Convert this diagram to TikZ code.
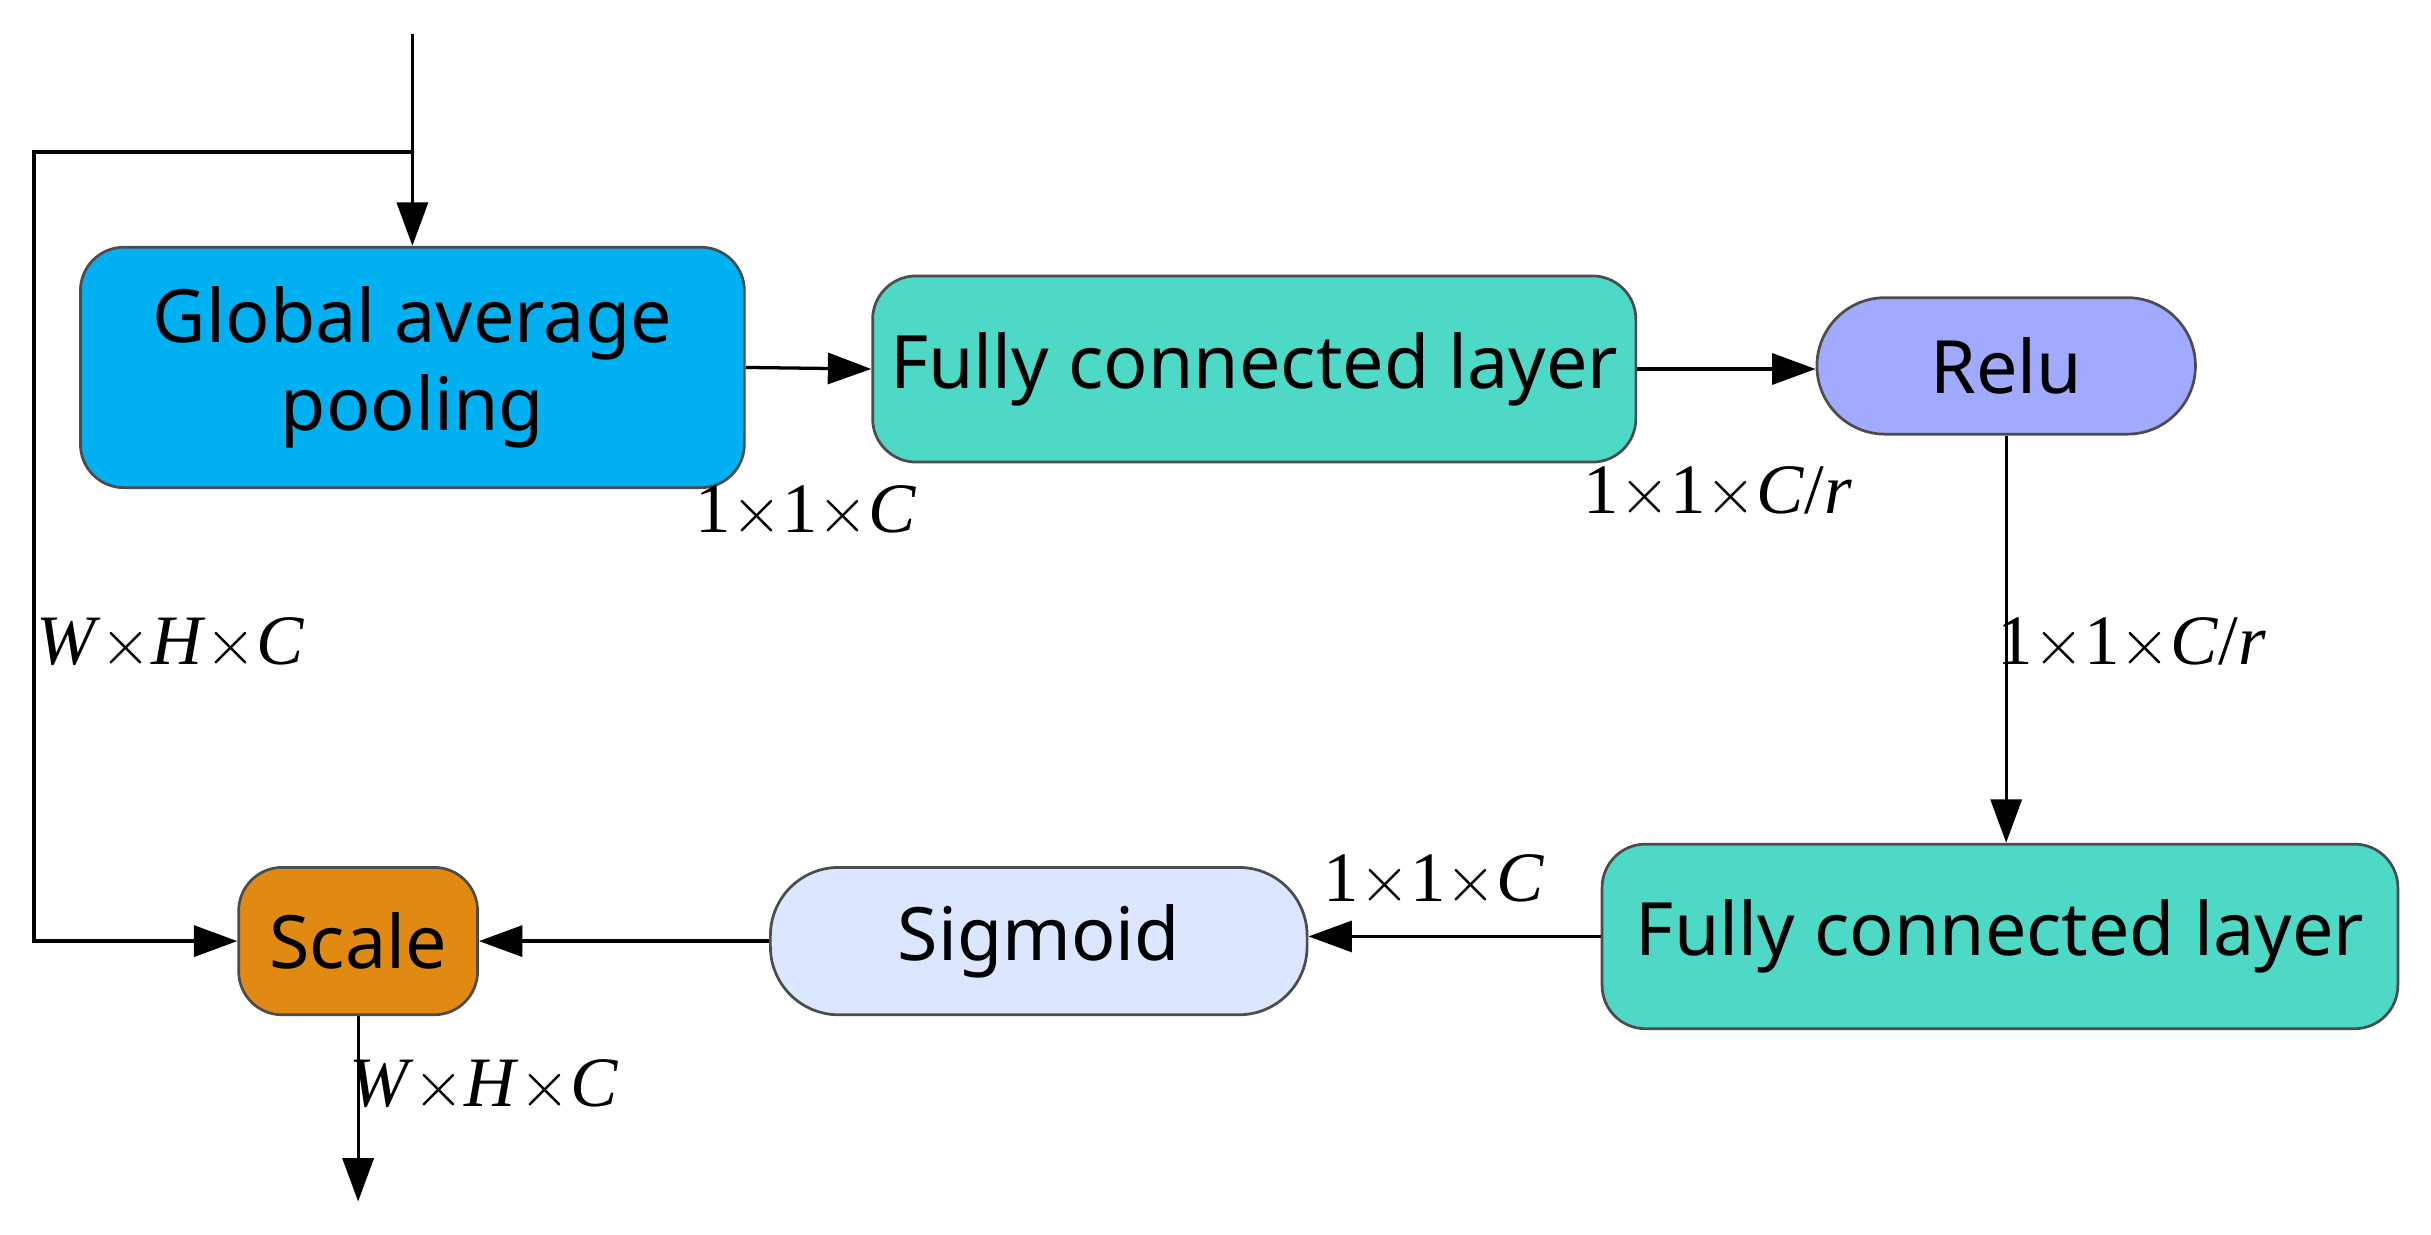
\documentclass[tikz,border=0pt]{standalone}
\usepackage{fontspec}
\setmainfont{Liberation Serif}
\newfontfamily\boxfont{Noto Sans}
\usetikzlibrary{arrows.meta}
\definecolor{cgap}{HTML}{00B0F0}
\definecolor{cfc}{HTML}{4DD9C6}
\definecolor{crelu}{HTML}{A0AAFF}
\definecolor{csig}{HTML}{DCE6FF}
\definecolor{cscale}{HTML}{E08A14}
\begin{document}
\begin{tikzpicture}[x=0.01cm,y=-0.01cm,
  box/.style={draw=black!70,line width=0.5pt,rounded corners=0.28cm,font=\boxfont\fontsize{13.5}{16}\selectfont,align=center,inner sep=0pt},
  pill/.style={box,rounded corners=0.44cm},
  ln/.style={line width=0.6pt,-{Triangle[length=0.28cm,width=0.2cm]}},
  lab/.style={font=\fontsize{13}{15}\selectfont}]
\useasboundingbox (0,0) rectangle (1568,796);
\node[box,fill=cgap,minimum width=4.28cm,minimum height=1.55cm] (gap) at (266,237) {Global average\\pooling};
\node[box,fill=cfc,minimum width=4.92cm,minimum height=1.2cm] (fc1) at (809,238) {Fully connected layer};
\node[pill,fill=crelu,minimum width=2.44cm,minimum height=0.88cm] (relu) at (1294,236) {Relu};
\node[box,fill=cfc,minimum width=5.13cm,minimum height=1.19cm] (fc2) at (1290,604) {Fully connected layer};
\node[pill,fill=csig,minimum width=3.46cm,minimum height=0.95cm] (sig) at (670,607) {Sigmoid};
\node[box,fill=cscale,minimum width=1.54cm,minimum height=0.95cm] (scale) at (231,607) {Scale};
\coordinate (in) at (266,22);
\coordinate (br) at (266,98);
\coordinate (out) at (231,775);
\draw[ln] (in) -- (gap.north);
\draw[ln] (br) -- (22,98) |- (scale.west);
\draw[ln] (gap.east) -- (fc1.west);
\draw[ln] (fc1.east) -- (fc1.east -| relu.west);
\draw[ln] (relu.south) -- (relu.south |- fc2.north);
\draw[ln] (fc2.west) -- (fc2.west -| sig.east);
\draw[ln] (sig.west) -- (sig.west -| scale.east);
\draw[ln] (scale.south) -- (out);
\node[lab] (l1) at (520,330) {1$\times$1$\times$\textit{C}};
\node[lab] (l2) at (1108,318) {1$\times$1$\times$\textit{C}/\textit{r}};
\node[lab] (l3) at (110,415) {\textit{W}$\times$\textit{H}$\times$\textit{C}};
\node[lab] (l4) at (1375,415) {1$\times$1$\times$\textit{C}/\textit{r}};
\node[lab] (l5) at (925,568) {1$\times$1$\times$\textit{C}};
\node[lab] (l6) at (312,700) {\textit{W}$\times$\textit{H}$\times$\textit{C}};
\end{tikzpicture}
\end{document}
